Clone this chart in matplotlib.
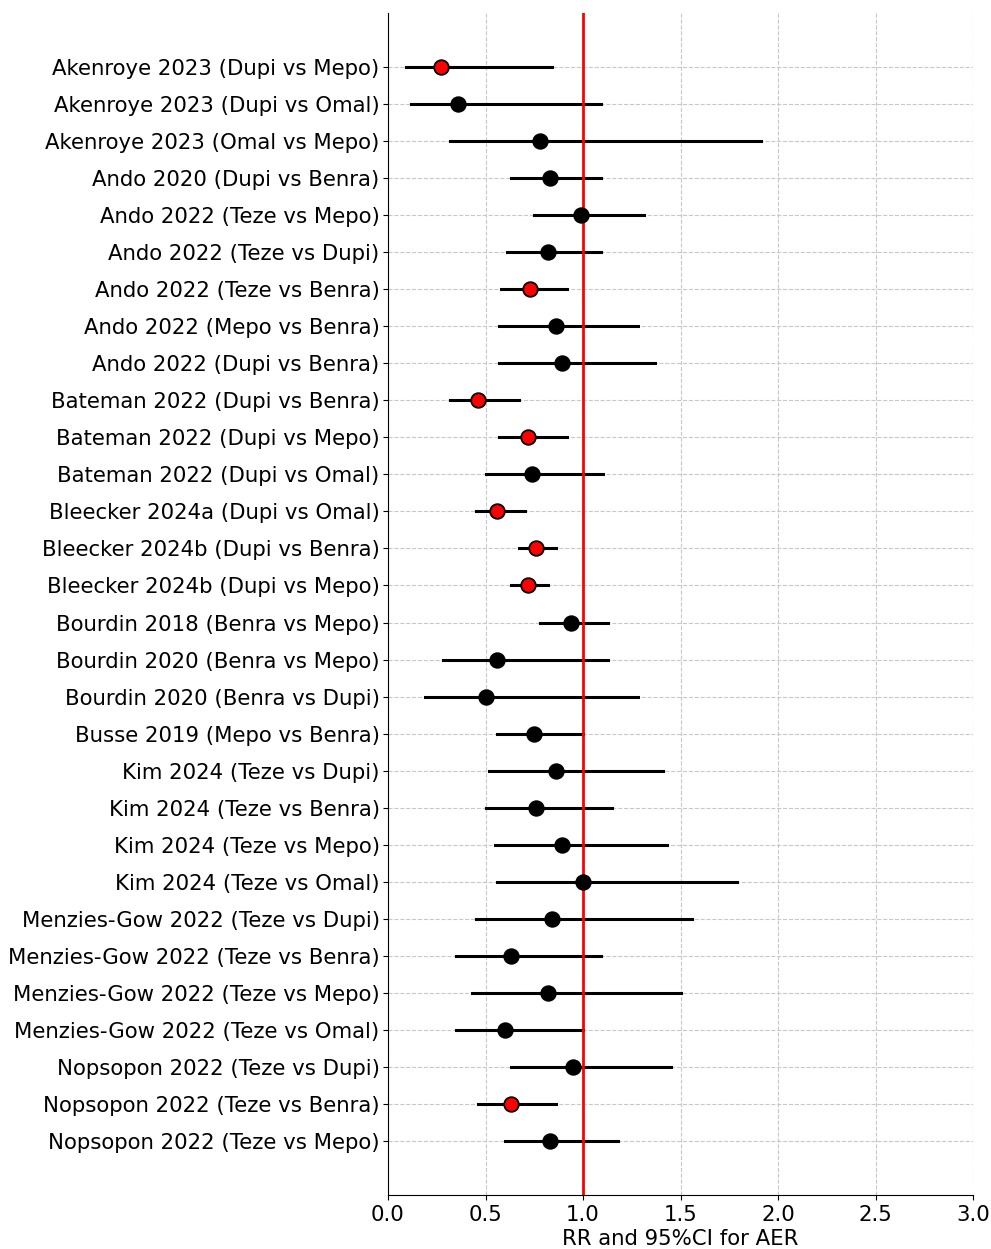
import matplotlib
matplotlib.use("Agg")
import matplotlib.pyplot as plt

studies = [
    "Akenroye 2023 (Dupi vs Mepo)",
    "Akenroye 2023 (Dupi vs Omal)",
    "Akenroye 2023 (Omal vs Mepo)",
    "Ando 2020 (Dupi vs Benra)",
    "Ando 2022 (Teze vs Mepo)",
    "Ando 2022 (Teze vs Dupi)",
    "Ando 2022 (Teze vs Benra)",
    "Ando 2022 (Mepo vs Benra)",
    "Ando 2022 (Dupi vs Benra)",
    "Bateman 2022 (Dupi vs Benra)",
    "Bateman 2022 (Dupi vs Mepo)",
    "Bateman 2022 (Dupi vs Omal)",
    "Bleecker 2024a (Dupi vs Omal)",
    "Bleecker 2024b (Dupi vs Benra)",
    "Bleecker 2024b (Dupi vs Mepo)",
    "Bourdin 2018 (Benra vs Mepo)",
    "Bourdin 2020 (Benra vs Mepo)",
    "Bourdin 2020 (Benra vs Dupi)",
    "Busse 2019 (Mepo vs Benra)",
    "Kim 2024 (Teze vs Dupi)",
    "Kim 2024 (Teze vs Benra)",
    "Kim 2024 (Teze vs Mepo)",
    "Kim 2024 (Teze vs Omal)",
    "Menzies-Gow 2022 (Teze vs Dupi)",
    "Menzies-Gow 2022 (Teze vs Benra)",
    "Menzies-Gow 2022 (Teze vs Mepo)",
    "Menzies-Gow 2022 (Teze vs Omal)",
    "Nopsopon 2022 (Teze vs Dupi)",
    "Nopsopon 2022 (Teze vs Benra)",
    "Nopsopon 2022 (Teze vs Mepo)",
]

rr = [0.27, 0.36, 0.78, 0.83, 0.99, 0.82, 0.73, 0.86, 0.89, 0.46,
      0.72, 0.74, 0.56, 0.76, 0.72, 0.94, 0.56, 0.50, 0.75, 0.86,
      0.76, 0.89, 1.00, 0.84, 0.63, 0.82, 0.60, 0.95, 0.63, 0.83]

ci_low = [0.09, 0.12, 0.32, 0.63, 0.75, 0.61, 0.58, 0.57, 0.57, 0.32,
          0.57, 0.50, 0.45, 0.67, 0.63, 0.78, 0.28, 0.19, 0.56, 0.52,
          0.50, 0.55, 0.56, 0.45, 0.35, 0.43, 0.35, 0.63, 0.46, 0.60]

ci_high = [0.84, 1.09, 1.91, 1.09, 1.31, 1.09, 0.92, 1.28, 1.37, 0.67,
           0.92, 1.10, 0.70, 0.86, 0.82, 1.13, 1.13, 1.28, 1.00, 1.41,
           1.15, 1.43, 1.79, 1.56, 1.09, 1.50, 1.00, 1.45, 0.86, 1.18]

# significant results (upper CI below 1) are drawn in red
significant = [hi < 1.0 for hi in ci_high]

fig, ax = plt.subplots(figsize=(9.91, 12.49), dpi=100)
fig.subplots_adjust(left=0.3915, right=0.982, top=0.9896, bottom=0.0432)

for i in range(len(studies)):
    ax.plot([ci_low[i], ci_high[i]], [i, i], color="black", linewidth=2.2, zorder=2)
    face = "red" if significant[i] else "black"
    ax.plot(rr[i], i, "o", markersize=10.5, markerfacecolor=face,
            markeredgecolor="black", markeredgewidth=1.3, zorder=3)

ax.axvline(1.0, color="red", linewidth=2.0, zorder=2)

ax.set_yticks(range(len(studies)))
ax.set_yticklabels(studies, fontsize=15.3)
ax.set_ylim(30.45, -1.45)
ax.set_xlim(0, 3.0)
ax.set_xticks([0.0, 0.5, 1.0, 1.5, 2.0, 2.5, 3.0])
ax.tick_params(axis="x", labelsize=15.3)
ax.tick_params(axis="y", pad=2.5)
ax.set_xlabel("RR and 95%CI for AER", fontsize=15.3, labelpad=3)

ax.grid(True, linestyle="--", color="#c8c8c8", linewidth=0.8, zorder=0)
ax.set_axisbelow(True)
ax.spines["top"].set_visible(False)
ax.spines["right"].set_visible(False)

plt.savefig("out.png", dpi=100)
